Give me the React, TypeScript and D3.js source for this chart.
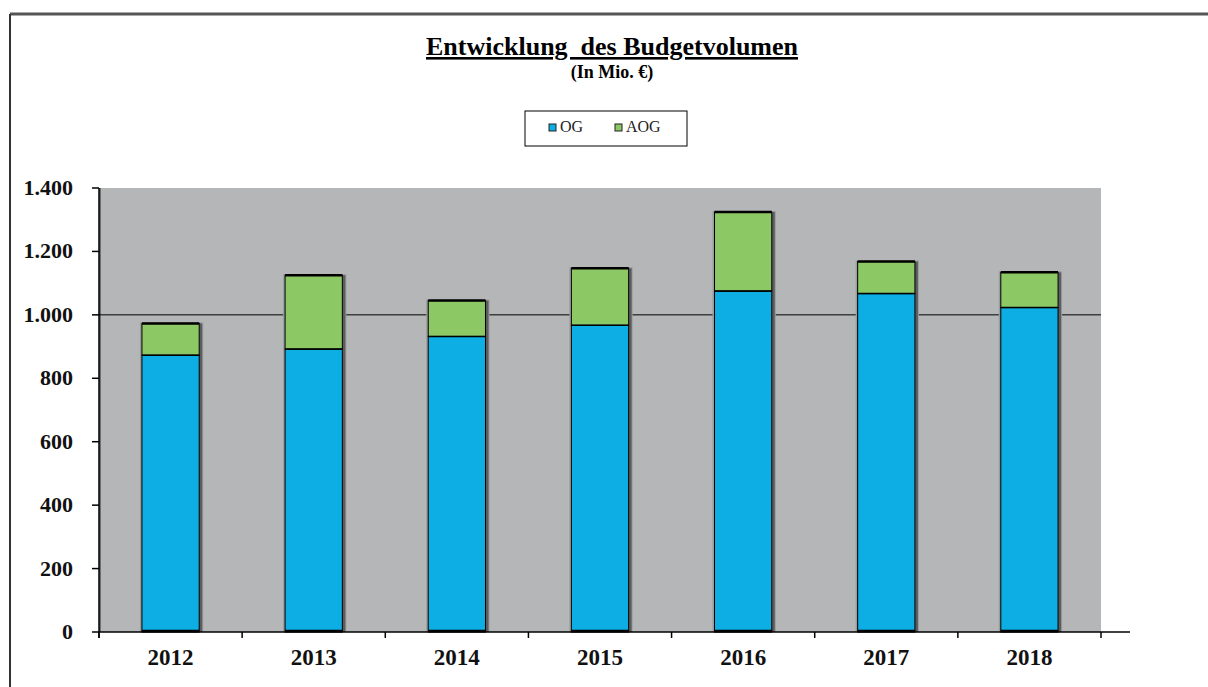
import React from "react";
import * as d3 from "d3";

const years = ["2012", "2013", "2014", "2015", "2016", "2017", "2018"];
const og = [873, 892, 932, 967, 1075, 1067, 1023];
const aog = [100, 233, 113, 180, 249, 101, 111];
const yTicks = [0, 200, 400, 600, 800, 1000, 1200, 1400];
const seriesNames = ["OG", "AOG"];
const colors = ["#0DAEE3", "#8CC864"];

const W = 1208;
const H = 687;
const plot = { left: 99, right: 1101, top: 188, bottom: 632 };
const FONT = "'Liberation Serif', 'Times New Roman', serif";

const fmt = (v: number) => d3.format(",")(v).replace(/,/g, ".");

export default function App() {
  const x = d3.scaleBand().domain(years).range([plot.left, plot.right]).paddingInner(0.6).paddingOuter(0.3);
  const xb = d3.scaleBand().domain(years).range([plot.left, plot.right]);
  const y = d3.scaleLinear().domain([0, 1400]).range([plot.bottom, plot.top]);

  const stackData = years.map((yr, i) => ({ year: yr, OG: og[i], AOG: aog[i] }));
  const stack = d3.stack<any>().keys(seriesNames)(stackData);
  const bw = x.bandwidth();

  return (
    <svg width={W} height={H} style={{ position: "absolute", left: 0, top: 0, background: "#fff" }}>
      {/* outer frame */}
      <line x1={10} y1={14} x2={W} y2={14} stroke="#555" strokeWidth={3} />
      <line x1={10} y1={14} x2={10} y2={H} stroke="#333" strokeWidth={2} />

      {/* title */}
      <text x={612} y={55} textAnchor="middle" fontFamily={FONT} fontWeight="bold" fontSize={26} textDecoration="underline" style={{ whiteSpace: "pre" }}>
        {"Entwicklung  des Budgetvolumen"}
      </text>
      <text x={612} y={78} textAnchor="middle" fontFamily={FONT} fontWeight="bold" fontSize={18}>
        (In Mio. €)
      </text>

      {/* legend */}
      <rect x={525} y={111} width={162} height={35} fill="#fff" stroke="#000" strokeWidth={1} />
      {seriesNames.map((s, i) => (
        <g key={s} transform={`translate(${549 + i * 66},124)`}>
          <rect x={0} y={0} width={7} height={7} fill={colors[i]} stroke="#222" strokeWidth={1} />
          <text x={11} y={8} fontFamily={FONT} fontSize={16} fill="#222">{s}</text>
        </g>
      ))}

      {/* plot area */}
      <rect x={plot.left} y={plot.top} width={plot.right - plot.left} height={plot.bottom - plot.top} fill="#B5B6B8" />
      <line x1={plot.left + 1} y1={plot.top} x2={plot.left + 1} y2={plot.bottom} stroke="#6e6e6e" strokeWidth={2} />
      <line x1={plot.left} y1={y(1000)} x2={plot.right} y2={y(1000)} stroke="#000" strokeWidth={1} />

      {/* bars */}
      {years.map((yr, i) => {
        const x0 = x(yr)!;
        const top = y(og[i] + aog[i]);
        return (
          <g key={"sh" + yr}>
            <rect x={x0 - 2} y={top - 1} width={bw + 6} height={plot.bottom - top + 1} fill="#9a9b9d" />
            <rect x={x0 + bw} y={top} width={3} height={plot.bottom - top} fill="#5c5c5e" />
          </g>
        );
      })}
      {stack.map((layer, si) =>
        layer.map((d, i) => (
          <rect
            key={seriesNames[si] + i}
            x={x(years[i])!}
            y={y(d[1])}
            width={bw}
            height={y(d[0]) - y(d[1])}
            fill={colors[si]}
            stroke="#000"
            strokeWidth={1}
          />
        ))
      )}
      {years.map((yr, i) => (
        <g key={"edge" + yr}>
          <line x1={x(yr)!} x2={x(yr)! + bw} y1={y(og[i] + aog[i])} y2={y(og[i] + aog[i])} stroke="#000" strokeWidth={2.5} />
          <line x1={x(yr)!} x2={x(yr)! + bw} y1={y(og[i])} y2={y(og[i])} stroke="#000" strokeWidth={1.5} />
          <line x1={x(yr)!} x2={x(yr)! + bw} y1={plot.bottom - 1} y2={plot.bottom - 1} stroke="#000" strokeWidth={2.5} />
        </g>
      ))}

      {/* y axis */}
      <line x1={plot.left} y1={plot.top} x2={plot.left} y2={plot.bottom + 6} stroke="#000" strokeWidth={1.5} />
      {yTicks.map((t) => (
        <g key={"yt" + t}>
          <line x1={plot.left - 7} x2={plot.left} y1={y(t)} y2={y(t)} stroke="#000" strokeWidth={1.5} />
          <text x={73} y={y(t) + 7} textAnchor="end" fontFamily={FONT} fontWeight="bold" fontSize={22} fill="#111">
            {fmt(t)}
          </text>
        </g>
      ))}

      {/* x axis */}
      <line x1={plot.left} y1={plot.bottom} x2={plot.right + 29} y2={plot.bottom} stroke="#000" strokeWidth={1.5} />
      {years.map((yr) => (
        <line key={"xt" + yr} x1={xb(yr)!} x2={xb(yr)!} y1={plot.bottom} y2={plot.bottom + 6} stroke="#000" strokeWidth={1.5} />
      ))}
      <line x1={plot.right} x2={plot.right} y1={plot.bottom} y2={plot.bottom + 6} stroke="#000" strokeWidth={1.5} />
      {years.map((yr) => (
        <text key={"xl" + yr} x={xb(yr)! + xb.bandwidth() / 2} y={665} textAnchor="middle" fontFamily={FONT} fontWeight="bold" fontSize={23} fill="#111">
          {yr}
        </text>
      ))}
    </svg>
  );
}
